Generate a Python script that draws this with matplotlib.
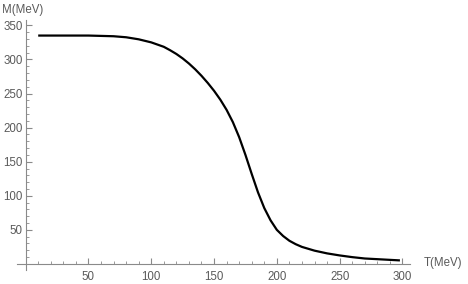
import matplotlib
matplotlib.use("Agg")
import matplotlib.pyplot as plt
from matplotlib.ticker import MultipleLocator

# Data
T_MeV = [10, 20, 30, 40, 50, 60, 70, 80, 90, 100, 110, 115, 120, 125, 130, 135,
         140, 145, 150, 155, 160, 165, 170, 175, 180, 185, 190, 195, 200, 205,
         210, 215, 220, 230, 240, 250, 260, 270, 280, 290, 298]
M_MeV = [335, 335, 335, 335, 335, 334.5, 334, 332.5, 329.5, 325, 318.5, 313.5,
         308, 301.5, 294, 285.5, 276, 265.5, 254, 241, 226, 208, 186, 160, 132,
         105, 82, 64, 50, 41, 34, 29, 25, 19.5, 15.5, 12.5, 10, 8, 7, 6, 5.2]
x_ticks = [50, 100, 150, 200, 250, 300]
y_ticks = [50, 100, 150, 200, 250, 300, 350]

plt.rcParams['font.family'] = ['Liberation Sans', 'DejaVu Sans']

fig = plt.figure(figsize=(4.68, 2.84), dpi=100)
ax = fig.add_axes([0.036, 0.049, 0.84, 0.881])

ax.plot(T_MeV, M_MeV, color='black', lw=1.6, solid_capstyle='butt',
        solid_joinstyle='round')

ax.set_xlim(-7, 306)
ax.set_ylim(-9, 358)

axis_col = '#8a8a8a'
text_col = '#5a5a5a'
for s in ['top', 'right']:
    ax.spines[s].set_visible(False)
ax.spines['left'].set_position(('data', 0))
ax.spines['bottom'].set_position(('data', 0))
for s in ['left', 'bottom']:
    ax.spines[s].set_color(axis_col)
    ax.spines[s].set_linewidth(0.8)

ax.set_xticks(x_ticks)
ax.set_yticks(y_ticks)
ax.xaxis.set_minor_locator(MultipleLocator(10))
ax.yaxis.set_minor_locator(MultipleLocator(10))
ax.tick_params(axis='both', which='major', direction='in', length=4, width=0.8,
               color=axis_col, labelcolor=text_col, labelsize=8.3, pad=2)
ax.tick_params(axis='both', which='minor', direction='in', length=2, width=0.6,
               color=axis_col)
ax.tick_params(axis='x', which='major', pad=5)

fig.text(0.004, 0.965, 'M(MeV)', color=text_col, fontsize=8.3, va='center', ha='left')
fig.text(0.905, 0.073, 'T(MeV)', color=text_col, fontsize=8.3, va='center', ha='left')

fig.savefig('out.png', dpi=100)
